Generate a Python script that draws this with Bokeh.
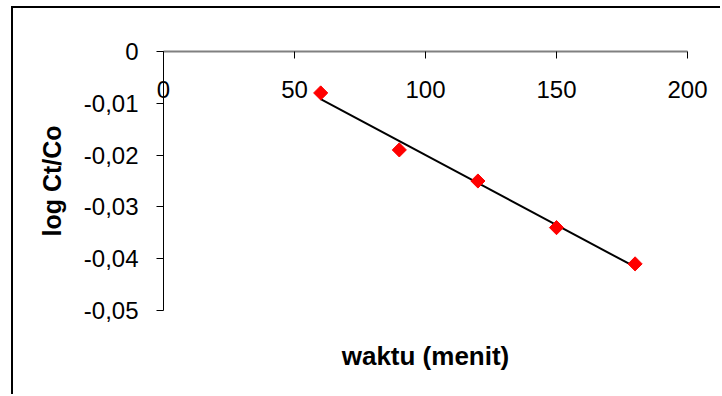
import numpy as np
from bokeh.plotting import figure
from bokeh.models import Range1d, LinearAxis, FixedTicker, CustomJSTickFormatter
from bokeh.embed import file_html
from bokeh.resources import INLINE

# time (minutes) and log(Ct/Co)
waktu = [60, 90, 120, 150, 180]
log_ct_co = [-0.008, -0.019, -0.025, -0.034, -0.041]
x_ticks = [0, 50, 100, 150, 200]
y_ticks = [0, -0.01, -0.02, -0.03, -0.04, -0.05]

FONT = "Liberation Sans"

p = figure(
    width=709, height=388,
    x_range=Range1d(0, 200), y_range=Range1d(-0.05, 0),
    output_backend="svg", toolbar_location=None,
    x_axis_location=None, y_axis_location=None,
    min_border_left=150, min_border_right=35,
    min_border_top=43, min_border_bottom=86,
)
p.styles = {
    "margin-left": "11px", "margin-top": "6px",
    "border-left": "2px solid black", "border-top": "2px solid black",
}
p.grid.visible = False
p.outline_line_color = None

comma = CustomJSTickFormatter(code="""
    if (Math.abs(tick) < 1e-12) return "0";
    return tick.toFixed(2).replace(".", ",");
""")

# y axis
yax = LinearAxis(
    ticker=FixedTicker(ticks=y_ticks), formatter=comma,
    axis_label="log Ct/Co",
    axis_label_text_font=FONT, axis_label_text_font_size="25px",
    axis_label_text_font_style="bold", axis_label_standoff=15,
    axis_label_text_color="black",
    major_label_text_font=FONT, major_label_text_font_size="24px",
    major_label_text_color="black",
    major_label_standoff=18,
    axis_line_color="black", axis_line_width=1,
    major_tick_line_color="black", major_tick_out=7, major_tick_in=0,
    minor_tick_line_color=None,
)
p.add_layout(yax, "left")

# x axis along y = 0 (top edge); ticks point down, labels sit under the line
xax = LinearAxis(
    ticker=FixedTicker(ticks=x_ticks),
    major_label_text_font=FONT, major_label_text_font_size="24px",
    major_label_text_color="black",
    major_label_standoff=-46,
    axis_line_color="#808080", axis_line_width=2,
    major_tick_line_color="black", major_tick_out=0, major_tick_in=7,
    minor_tick_line_color=None,
)
p.add_layout(xax, "above")

# x axis title
xtitle = LinearAxis(
    ticker=FixedTicker(ticks=[]),
    axis_label="waktu (menit)",
    axis_label_text_font=FONT, axis_label_text_font_size="26px",
    axis_label_text_font_style="bold", axis_label_standoff=30,
    axis_label_text_color="black",
    axis_line_color=None, major_tick_line_color=None,
    minor_tick_line_color=None, major_label_text_font_size="0px",
)
p.add_layout(xtitle, "below")

# least-squares trend line
k, b = np.polyfit(waktu, log_ct_co, 1)
xs = [min(waktu), max(waktu)]
p.line(xs, [k * x + b for x in xs], line_color="black", line_width=2)

p.scatter(waktu, log_ct_co, marker="square", size=10, angle=np.pi / 4,
          fill_color="#FF0000", line_color="#FF0000")

open("out.html", "w").write(file_html(p, INLINE))
